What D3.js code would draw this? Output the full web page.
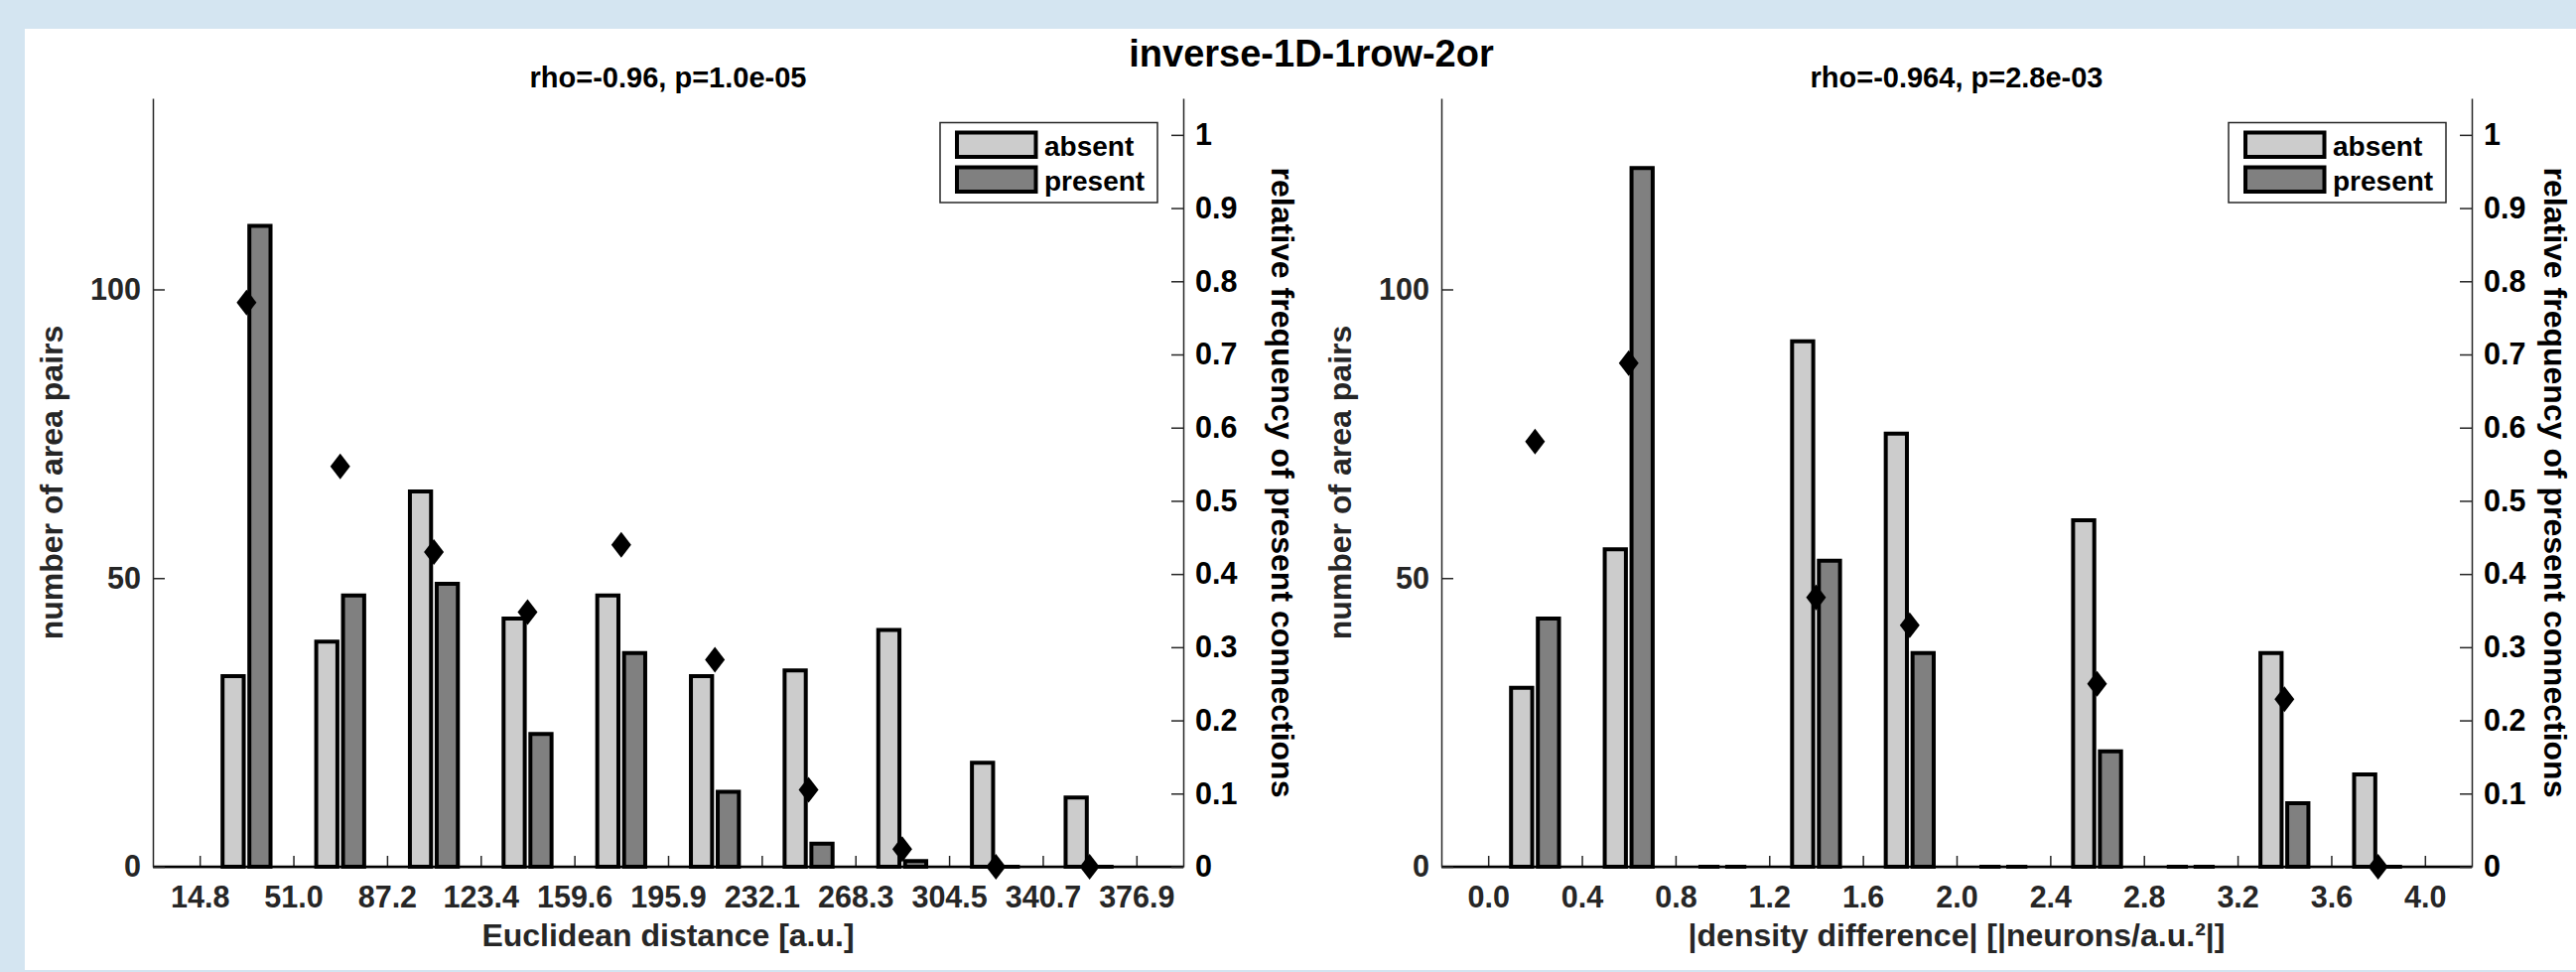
<!DOCTYPE html>
<html>
<head>
<meta charset="utf-8">
<script src="https://cdn.jsdelivr.net/npm/d3@7"></script>
<style>
  html, body { margin: 0; padding: 0; background: #d4e5f1; }
  svg { display: block; }
  text { font-family: "Liberation Sans", Arial, Helvetica, sans-serif; font-weight: bold; }
</style>
</head>
<body>
<svg id="chart" width="2595" height="979"></svg>
<script>
// ---------------- data ----------------
const figureTitle = "inverse-1D-1row-2or";
const seriesNames = ["absent", "present"];

const distTitle = "rho=-0.96, p=1.0e-05";
const distXLabel = "Euclidean distance [a.u.]";
const distTickLabels = ["14.8", "51.0", "87.2", "123.4", "159.6", "195.9", "232.1", "268.3", "304.5", "340.7", "376.9"];
const distAbsent  = [33, 39, 65, 43, 47, 33, 34, 41, 18, 12];
const distPresent = [111, 47, 49, 23, 37, 13, 4, 1, 0, 0];
const distRelFreq = [0.771, 0.547, 0.430, 0.348, 0.440, 0.283, 0.105, 0.024, 0, 0];

const densTitle = "rho=-0.964, p=2.8e-03";
const densXLabel = "|density difference| [|neurons/a.u.\u00B2|]";
const densTickLabels = ["0.0", "0.4", "0.8", "1.2", "1.6", "2.0", "2.4", "2.8", "3.2", "3.6", "4.0"];
const densAbsent  = [31, 55, 0, 91, 75, 0, 60, 0, 37, 16];
const densPresent = [43, 121, 0, 53, 37, 0, 20, 0, 11, 0];
const densRelFreq = [0.581, 0.688, null, 0.368, 0.330, null, 0.250, null, 0.229, 0];

const countTicks = [0, 50, 100];
const relTicks = [0, 0.1, 0.2, 0.3, 0.4, 0.5, 0.6, 0.7, 0.8, 0.9, 1];
const relTickLabels = ["0", "0.1", "0.2", "0.3", "0.4", "0.5", "0.6", "0.7", "0.8", "0.9", "1"];
const yLabelLeft = "number of area pairs";
const yLabelRight = "relative frequency of present connections";

// ---------------- layout / style ----------------
const svg = d3.select("#chart");
const axisColor = "#262626";
const fills = ["#cccccc", "#808080"];
const plotTop = 99, plotBottom = 873;
const pageW = 2595;

svg.append("rect").attr("x", 25).attr("y", 29).attr("width", 2570).attr("height", 948).attr("fill", "#ffffff");

svg.append("text")
  .attr("x", 1321).attr("y", 67)
  .attr("text-anchor", "middle")
  .attr("font-size", 38)
  .attr("fill", "#000")
  .text(figureTitle);

function styleAxis(sel, textFill) {
  sel.select(".domain").attr("stroke", axisColor).attr("stroke-width", 1.5);
  sel.selectAll(".tick line").attr("stroke", axisColor).attr("stroke-width", 1.5);
  sel.selectAll(".tick text").attr("font-size", 30.5).attr("fill", textFill)
    .attr("font-family", "Liberation Sans, Arial, sans-serif").attr("font-weight", "bold");
}

function panel(L, R, title, xLabel, tickLabels, absent, present, rel) {
  const g = svg.append("g");
  const x = d3.scaleLinear().domain([-0.5, 10.5]).range([L, R]);
  const y = d3.scaleLinear().domain([0, 133.1]).range([plotBottom, plotTop]);
  const yR = d3.scaleLinear().domain([0, 1.05]).range([plotBottom, plotTop]);
  const step = x(1) - x(0);
  const barW = 0.226 * step;
  const off = 0.143 * step;

  // bars (drawn as closed paths so zero-height bars still show their outline)
  const groups = d3.range(absent.length);
  [absent, present].forEach((vals, s) => {
    g.append("g").selectAll("path").data(groups).join("path")
      .attr("d", i => {
        const x0 = x(i + 0.5) + (s === 0 ? -off : off) - barW / 2;
        const y0 = y(0), y1 = y(vals[i]);
        return `M${x0},${y0}H${x0 + barW}V${y1}H${x0}Z`;
      })
      .attr("fill", fills[s])
      .attr("stroke", "#000")
      .attr("stroke-width", 4)
      .attr("stroke-linejoin", "miter");
  });

  // axes
  const xAxis = d3.axisBottom(x)
    .tickValues(d3.range(tickLabels.length))
    .tickFormat(i => tickLabels[i])
    .tickSizeInner(-11).tickSizeOuter(0).tickPadding(19);
  const gx = g.append("g").attr("transform", `translate(0,${plotBottom})`).call(xAxis);
  styleAxis(gx, axisColor);

  // bar baseline
  g.append("line").attr("x1", L).attr("x2", R).attr("y1", y(0)).attr("y2", y(0))
    .attr("stroke", "#000").attr("stroke-width", 2.5);

  const yAxis = d3.axisLeft(y).tickValues(countTicks).tickFormat(d3.format("d"))
    .tickSizeInner(-12).tickSizeOuter(0).tickPadding(12);
  const gy = g.append("g").attr("transform", `translate(${L},0)`).call(yAxis);
  styleAxis(gy, axisColor);

  const yAxisR = d3.axisRight(yR).tickValues(relTicks).tickFormat((d, i) => relTickLabels[i])
    .tickSizeInner(-12).tickSizeOuter(0).tickPadding(12);
  const gyr = g.append("g").attr("transform", `translate(${R},0)`).call(yAxisR);
  styleAxis(gyr, "#000");

  // diamonds
  const diamond = "M0,-13L10,0L0,13L-10,0Z";
  g.append("g").selectAll("path").data(groups.filter(i => rel[i] !== null)).join("path")
    .attr("d", diamond)
    .attr("transform", i => `translate(${x(i + 0.5)},${yR(rel[i])})`)
    .attr("fill", "#000");

  // labels
  g.append("text").attr("x", (L + R) / 2).attr("y", 88).attr("text-anchor", "middle")
    .attr("font-size", 29).attr("fill", "#000").text(title);
  g.append("text").attr("x", (L + R) / 2).attr("y", 953).attr("text-anchor", "middle")
    .attr("font-size", 32).attr("fill", axisColor).text(xLabel);
  g.append("text").attr("transform", `translate(${L - 91},${(plotTop + plotBottom) / 2}) rotate(-90)`)
    .attr("text-anchor", "middle").attr("font-size", 32).attr("fill", axisColor).text(yLabelLeft);
  const rx = Math.min(R + 89, pageW - 32);
  g.append("text").attr("transform", `translate(${rx},${(plotTop + plotBottom) / 2}) rotate(90)`)
    .attr("text-anchor", "middle").attr("font-size", 32).attr("fill", "#000").text(yLabelRight);

  // legend
  const lx = R - 245, ly = 123.5;
  const lg = g.append("g");
  lg.append("rect").attr("x", lx).attr("y", ly).attr("width", 219).attr("height", 80.5)
    .attr("fill", "#fff").attr("stroke", axisColor).attr("stroke-width", 1.5);
  seriesNames.forEach((name, s) => {
    lg.append("rect").attr("x", lx + 17).attr("y", ly + 10 + s * 35).attr("width", 79.5).attr("height", 24.5)
      .attr("fill", fills[s]).attr("stroke", "#000").attr("stroke-width", 4);
    lg.append("text").attr("x", lx + 105).attr("y", ly + 33 + s * 35)
      .attr("font-size", 28).attr("fill", "#000").text(name);
  });
}

panel(154, 1192, distTitle, distXLabel, distTickLabels, distAbsent, distPresent, distRelFreq);
panel(1452, 2490, densTitle, densXLabel, densTickLabels, densAbsent, densPresent, densRelFreq);
</script>
</body>
</html>
